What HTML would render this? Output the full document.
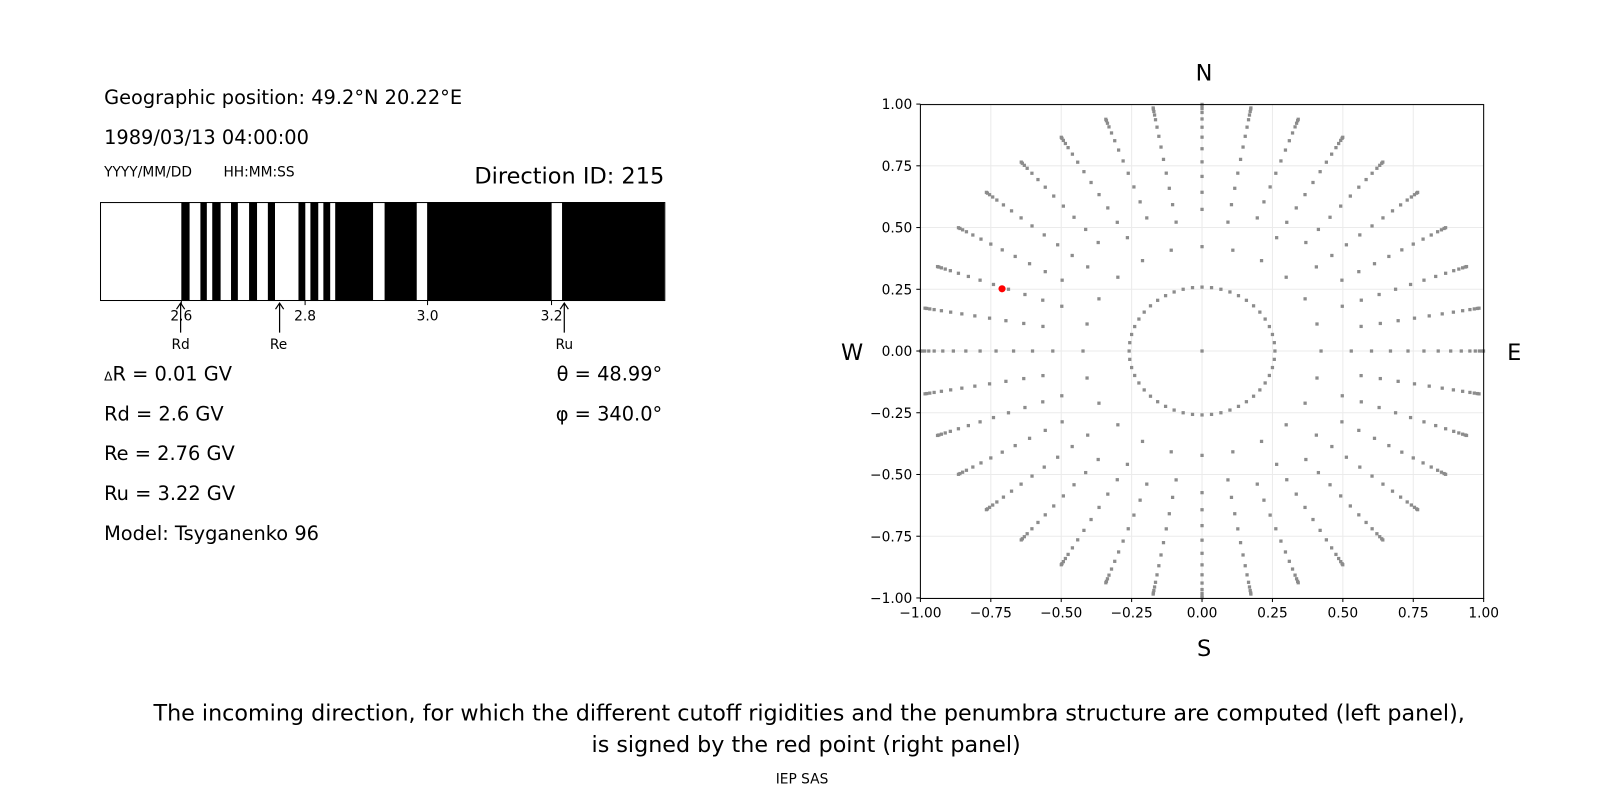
<!DOCTYPE html>
<html><head><meta charset="utf-8"><style>
html,body{margin:0;padding:0;background:#fff}
svg{display:block}
text{font-family:"DejaVu Sans","Liberation Sans",sans-serif;fill:#000}
</style></head><body>
<svg width="1600" height="800" viewBox="0 0 1600 800" xmlns="http://www.w3.org/2000/svg">
<g transform="scale(1.0204)">
<text x="102" y="102" font-size="19">Geographic position: 49.2°N 20.22°E</text>
<text x="102" y="141" font-size="19">1989/03/13 04:00:00</text>
<text x="102" y="173" font-size="13.5">YYYY/MM/DD</text>
<text x="219" y="173" font-size="13.5">HH:MM:SS</text>
<text x="651" y="180" font-size="22" text-anchor="end">Direction ID: 215</text>
<g id="bar"></g>
<rect x="98.5" y="198.5" width="553" height="96" fill="none" stroke="#000" stroke-width="1"/>
<g font-size="13.5" text-anchor="middle">
<line x1="177.7" y1="294" x2="177.7" y2="299" stroke="#000"/><text x="177.7" y="314">2.6</text>
<line x1="299" y1="294" x2="299" y2="299" stroke="#000"/><text x="299" y="314">2.8</text>
<line x1="419" y1="294" x2="419" y2="299" stroke="#000"/><text x="419" y="314">3.0</text>
<line x1="540.5" y1="294" x2="540.5" y2="299" stroke="#000"/><text x="540.5" y="314">3.2</text>
<text x="177" y="342">Rd</text><text x="273" y="342">Re</text><text x="553" y="342">Ru</text>
</g>
<g stroke="#000" stroke-width="1.2" fill="none">
<path d="M177 326V297M173 303L177 297L181 303"/>
<path d="M274 326V297M270 303L274 297L278 303"/>
<path d="M553 326V297M549 303L553 297L557 303"/>
</g>
<g font-size="19">
<text x="102" y="373"><tspan font-size="12">Δ</tspan>R = 0.01 GV</text>
<text x="102" y="412">Rd = 2.6 GV</text>
<text x="102" y="451">Re = 2.76 GV</text>
<text x="102" y="490">Ru = 3.22 GV</text>
<text x="102" y="529">Model: Tsyganenko 96</text>
<text x="649" y="373" text-anchor="end">θ = 48.99°</text>
<text x="649" y="412" text-anchor="end">φ = 340.0°</text>
</g>
<g id="grid" stroke="#ebebeb" stroke-width="1"></g>
<g id="dots" fill="#8c8c8c"></g>
<circle cx="982" cy="283" r="3.5" fill="#f00"/>
<rect x="902" y="102.5" width="552" height="484" fill="none" stroke="#000" stroke-width="1"/>
<g id="ticks" font-size="13.5"></g>
<g font-size="22" text-anchor="middle">
<text x="1180" y="79">N</text><text x="1180" y="643">S</text>
<text x="835" y="353">W</text><text x="1484" y="353">E</text>
</g>
<g font-size="21.8" text-anchor="middle">
<text x="793" y="706">The incoming direction, for which the different cutoff rigidities and the penumbra structure are computed (left panel),</text>
<text x="790" y="737">is signed by the red point (right panel)</text>
</g>
<text x="786" y="768" font-size="13.5" text-anchor="middle">IEP SAS</text>
</g>
</svg>
<script>
var NS="http://www.w3.org/2000/svg";
function el(p,t,a,txt){var e=document.createElementNS(NS,t);for(var k in a)e.setAttribute(k,a[k]);if(txt)e.textContent=txt;document.getElementById(p).appendChild(e);}
var bl=[[177.7,185.8],[196.4,202.7],[208,216.2],[226.4,233.1],[244.1,251.9],[262.5,269.5],[292.5,299.2],[304.2,311.9],[316.9,323.6],[328.5,365.6],[376.9,408.4],[418.6,540.6],[550.8,651]];
bl.forEach(function(b){el("bar","rect",{x:b[0],y:198,width:b[1]-b[0],height:97,fill:"#000"});});
function X(v){return 1178+v*276;}function Y(v){return 344-v*242;}
for(var i=-4;i<=4;i++){var v=i/4;
el("grid","line",{x1:X(v),y1:102,x2:X(v),y2:586});
el("grid","line",{x1:902,y1:Y(v),x2:1454,y2:Y(v)});
el("ticks","line",{x1:X(v),y1:586,x2:X(v),y2:590,stroke:"#000"});
el("ticks","line",{x1:898,y1:Y(v),x2:902,y2:Y(v),stroke:"#000"});
el("ticks","text",{x:X(v),y:605,"text-anchor":"middle"},v.toFixed(2).replace("-","−"));
el("ticks","text",{x:894,y:Y(v)+5,"text-anchor":"end"},v.toFixed(2).replace("-","−"));}
function dot(x,y){el("dots","rect",{x:X(x)-1.6,y:Y(y)-1.6,width:3.2,height:3.2});}
dot(0,0);
var r=Math.sin(15*Math.PI/180);
for(var a=0;a<360;a+=7.5){var t=a*Math.PI/180;dot(r*Math.cos(t),r*Math.sin(t));}
var r2=Math.sin(25*Math.PI/180);
for(var a=0;a<360;a+=15){var t=a*Math.PI/180;dot(r2*Math.cos(t),r2*Math.sin(t));}
for(var a=0;a<360;a+=10){var t=a*Math.PI/180;var z0=(a%20==0)?32:35;
for(var z=z0;z<=90;z+=(z>=72?4:5)){var rr=Math.sin(z*Math.PI/180);dot(rr*Math.cos(t),rr*Math.sin(t));}}
</script>
</body></html>
